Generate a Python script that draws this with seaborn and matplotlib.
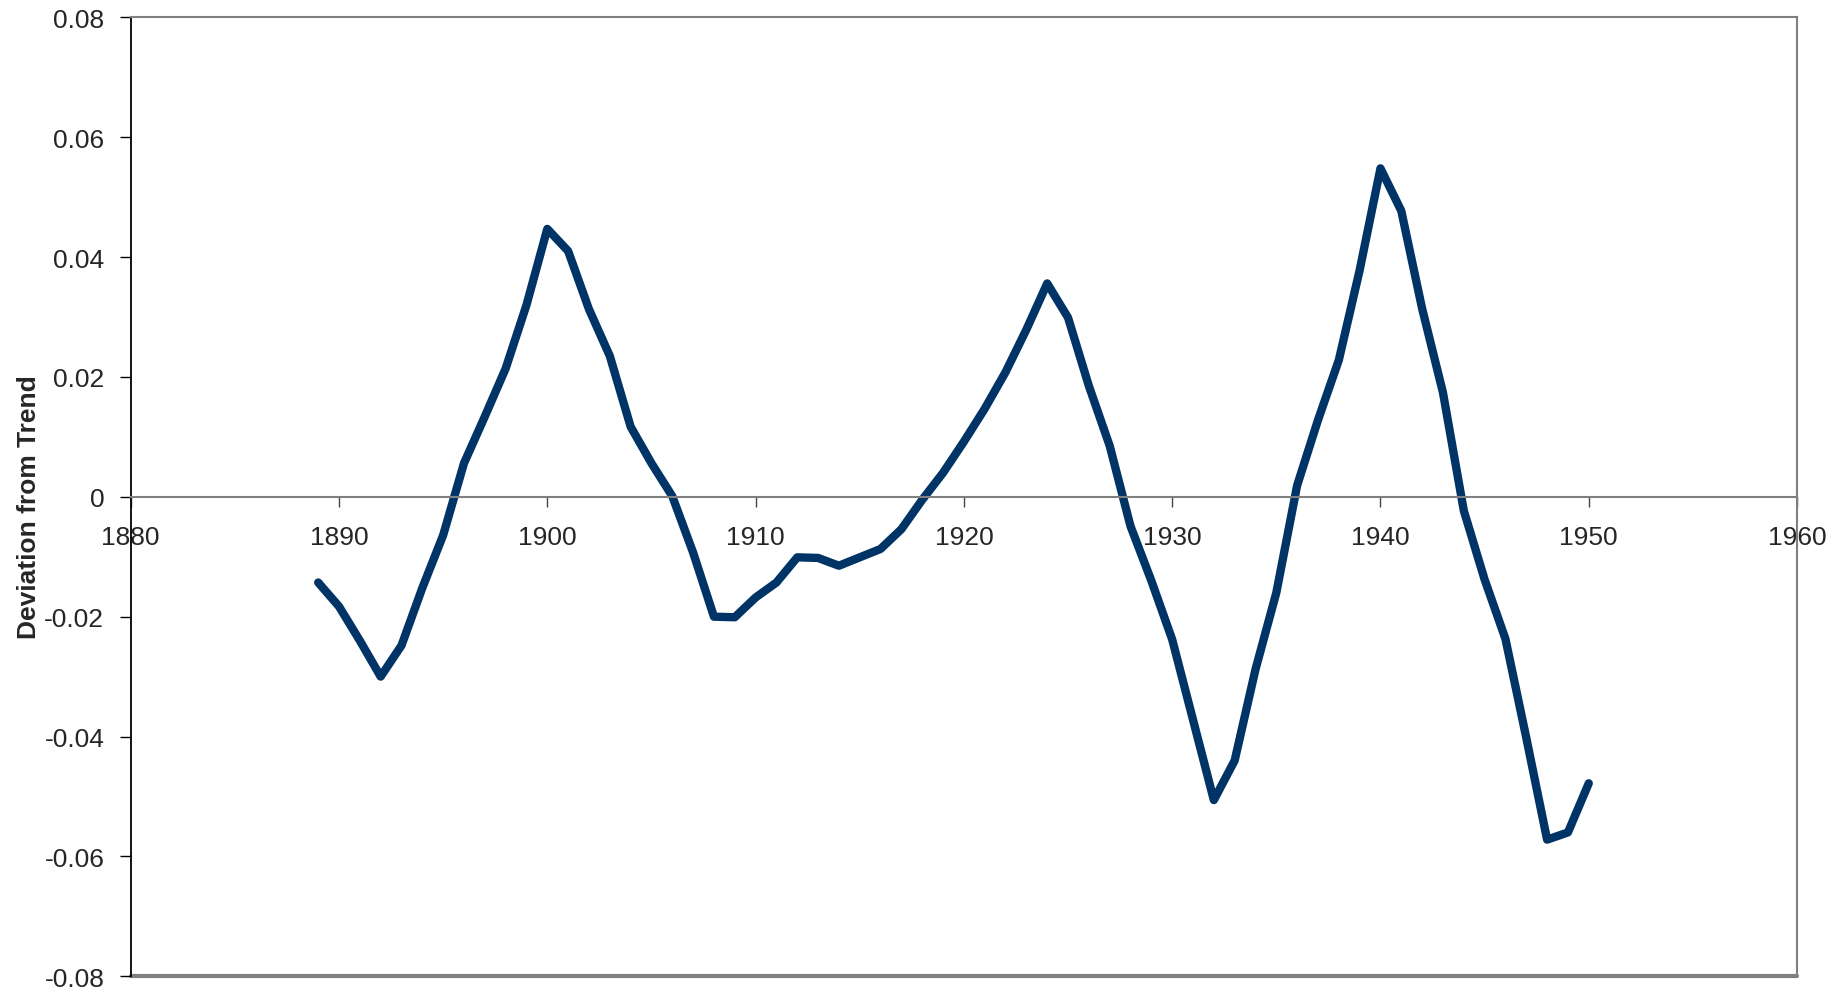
import matplotlib
matplotlib.use("Agg")
import matplotlib.pyplot as plt
import matplotlib.ticker as mtick
import seaborn as sns
import pandas as pd

years = list(range(1889, 1951))
deviation = [
    -0.0143, -0.0183, -0.0240, -0.0300, -0.0248, -0.0152, -0.0064, 0.0056, 0.0134, 0.0214,
    0.0320, 0.0447, 0.0410, 0.0313, 0.0235, 0.0117, 0.0056, 0.0001, -0.0093, -0.0200,
    -0.0201, -0.0168, -0.0143, -0.0101, -0.0102, -0.0115, -0.0101, -0.0087, -0.0054, -0.0005,
    0.0040, 0.0092, 0.0147, 0.0208, 0.0279, 0.0356, 0.0299, 0.0185, 0.0085, -0.0049,
    -0.0140, -0.0238, -0.0372, -0.0506, -0.0440, -0.0288, -0.0160, 0.0019, 0.0128, 0.0228,
    0.0378, 0.0548, 0.0477, 0.0314, 0.0174, -0.0023, -0.0138, -0.0237, -0.0402, -0.0572,
    -0.0560, -0.0478,
]
x_ticks = [1880, 1890, 1900, 1910, 1920, 1930, 1940, 1950, 1960]
y_ticks = [-0.08, -0.06, -0.04, -0.02, 0, 0.02, 0.04, 0.06, 0.08]

df = pd.DataFrame({"year": years, "deviation": deviation})

sns.set_style("white")
plt.rcParams['font.family'] = ['Liberation Sans', 'DejaVu Sans']

fig = plt.figure(figsize=(18.49, 9.95), dpi=100)
ax = fig.add_axes([0.0707, 0.0178, 0.9012, 0.9638])

sns.lineplot(data=df, x="year", y="deviation", color="#003366", lw=6, ax=ax)

ax.set_xlim(1880, 1960)
ax.set_ylim(-0.08, 0.08)
ax.set_xticks(x_ticks)
ax.set_yticks(y_ticks)
ax.yaxis.set_major_formatter(mtick.FuncFormatter(lambda v, p: "0" if abs(v) < 1e-9 else f"{v:.2f}"))

grey = "#808080"
ax.spines['left'].set_color("black")
ax.spines['left'].set_linewidth(1.3)
for s in ['top', 'right']:
    ax.spines[s].set_color(grey)
    ax.spines[s].set_linewidth(1.5)
ax.spines['bottom'].set_position(('data', 0))
ax.spines['bottom'].set_color(grey)
ax.spines['bottom'].set_linewidth(1.5)
ax.axhline(-0.08, color=grey, lw=3, clip_on=False, zorder=0)

ax.tick_params(axis='y', direction='out', length=8, width=1, color='black',
               labelsize=19, pad=11, left=True)
ax.tick_params(axis='x', direction='out', length=7, width=1, color='#444444',
               labelsize=19, pad=13, bottom=True)

ax.set_xlabel("")
ax.set_ylabel("Deviation from Trend", fontsize=19, fontweight='bold')
ax.yaxis.set_label_coords(-0.054, 0.49)

plt.savefig("out.png", dpi=100)
